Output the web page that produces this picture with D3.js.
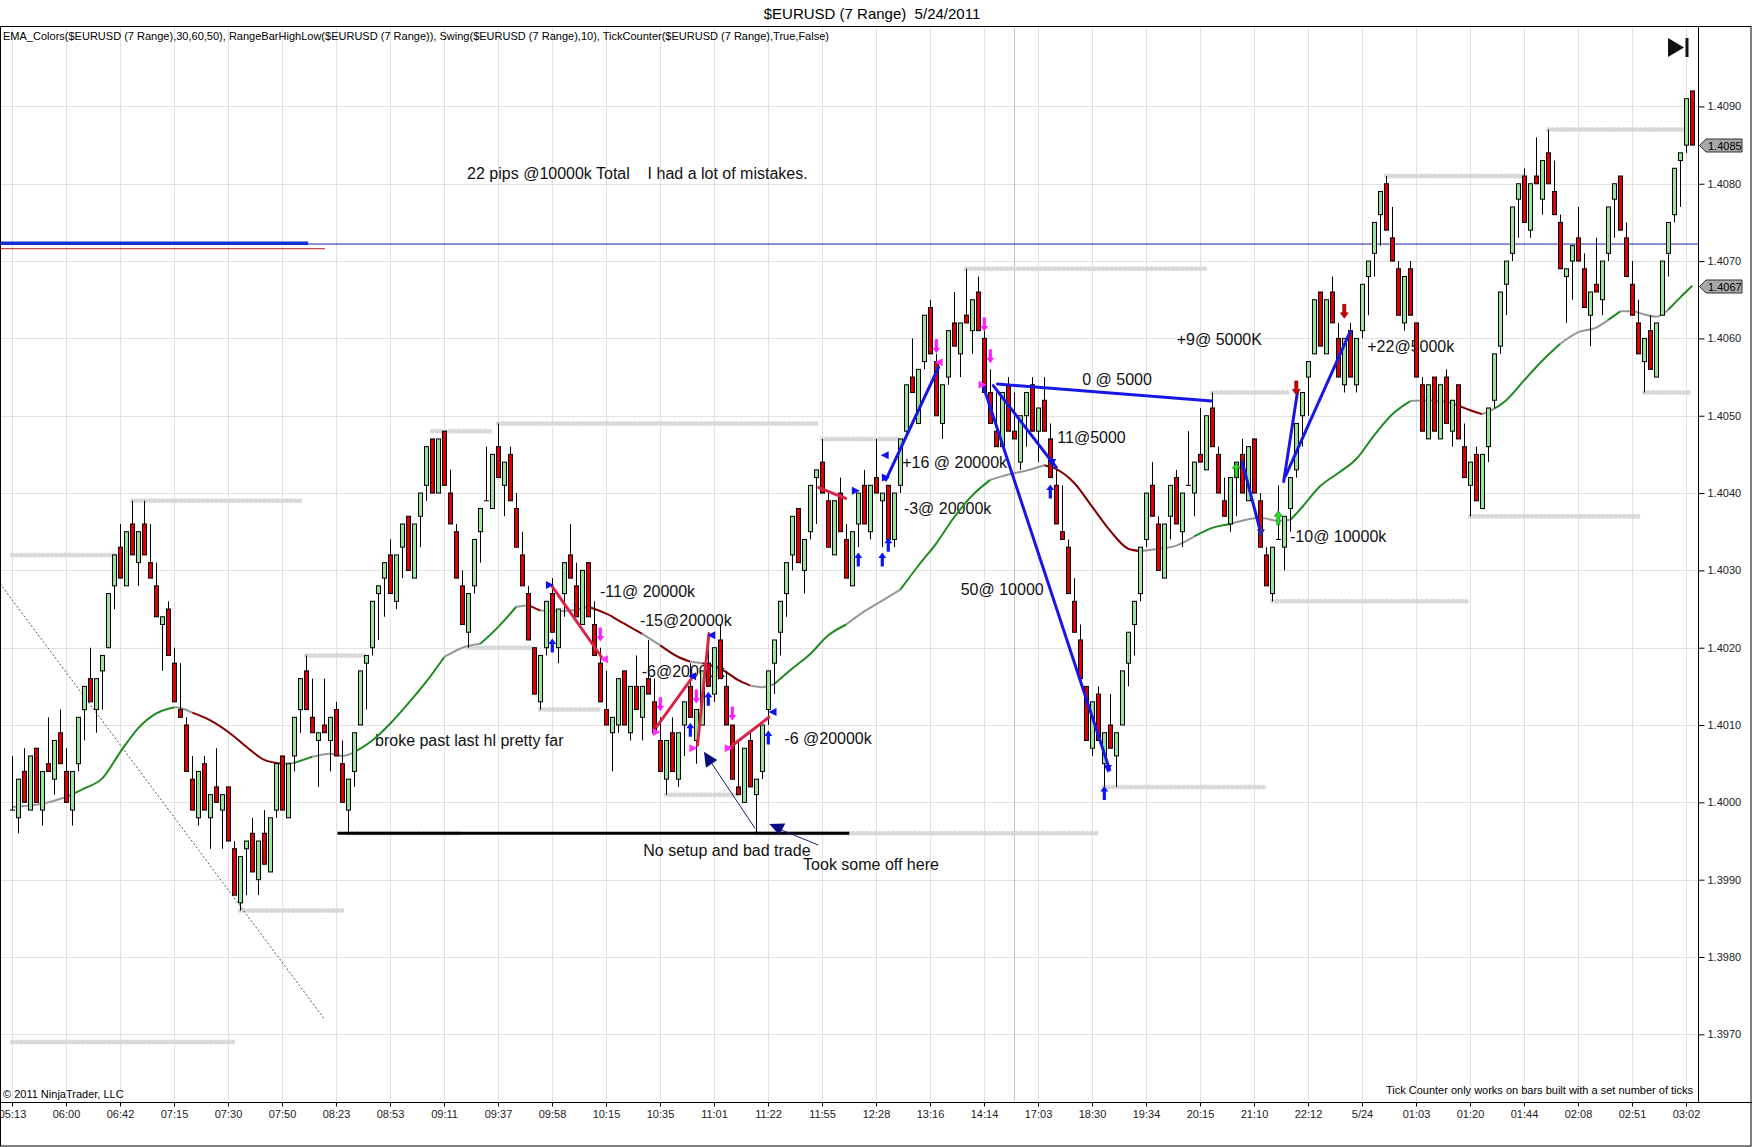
<!DOCTYPE html>
<html>
<head>
<meta charset="utf-8">
<script src="https://cdn.jsdelivr.net/npm/d3@7"></script>
<style>
  body { margin: 0; background: #fff; }
  svg { display: block; }
  text { font-family: "Liberation Sans", Arial, sans-serif; }
</style>
</head>
<body>
<script>
// all price values below are in pips above 1.4000
var timeLabels = ["05:13","06:00","06:42","07:15","07:30","07:50","08:23","08:53","09:11","09:37",
  "09:58","10:15","10:35","11:01","11:22","11:55","12:28","13:16","14:14","17:03","18:30","19:34",
  "20:15","21:10","22:12","5/24","01:03","01:20","01:44","02:08","02:51","03:02"];
var priceTicks = [1.3970,1.3980,1.3990,1.4000,1.4010,1.4020,1.4030,1.4040,1.4050,1.4060,1.4070,1.4080,1.4090];

var opens = [-1,-2,4,-1,7,-1,5,3,9,4, -1,5,12,16,12,17,20,28,33,28, 36,31,36,31,28,23,25,18,12,10,
  3,-2,5,-2,2,-1,2,-6,-13,-6, -4,-10,-4,-9,-1,6,-2,6,12,17, 11,8,10,8,12,5,-1,4,10,18,
  20,27,29,32,26,33,37,29,37,41, 47,40,48,40,35,28,22,28,35,39, 38,46,41,45,38,32,27,20,13,20,
  27,20,27,32,28,23,31,23,18,12, 9,10,17,9,15,11,16,13,8,3, 9,3,10,15,8,10,18,14,21,15,
  10,2,0,8,1,4,12,18,22,27, 32,38,30,35,42,44,39,32,40,34, 28,36,41,35,42,39,41,34,41,48,
  55,49,57,64,57,49,55,62,58,63, 61,66,60,53,48,46,54,48,44,50, 54,48,52,47,41,35,33,26,21,15,
  7,14,5,10,6,10,18,23,27,34, 41,36,29,37,42,35,41,40,45,43, 51,45,39,36,42,45,39,47,39,32,
  27,34,33,38,43,50,55,58,66,58, 66,60,54,61,54,61,68,71,76,80, 73,69,62,69,62,54,47,55,47,55,
  48,54,46,41,45,38,46,52,59,67, 71,78,81,74,81,78,84,79,75,68, 70,73,69,63,67,65,71,78,81,73,
  67,62,57,61,55,63,71,76,83,85, 92];
var highs = [6,3,7,6,7,4,11,8,12,7, 4,11,15,20,16,19,27,32,36,35, 39,35,39,36,31,24,26,20,18,11,
  6,4,6,1,7,1,2,-5,-7,-5, -2,-5,-1,-2,5,6,5,11,16,19, 16,9,16,11,13,8,3,9,17,19,
  26,28,31,34,32,36,37,36,40,46, 47,47,48,43,36,30,27,34,38,46, 45,49,44,46,40,35,28,20,19,26,
  29,25,31,36,31,30,31,26,20,17, 11,16,17,15,19,15,21,16,11,8, 11,9,13,18,12,17,22,20,23,17,
  10,8,7,9,3,10,17,21,26,31, 37,38,34,41,43,47,40,39,42,36, 35,40,43,41,47,40,41,40,47,54,
  60,56,63,65,58,54,61,66,62,69, 65,68,61,56,53,53,55,53,50,53, 55,51,55,49,43,41,34,29,23,15,
  13,15,9,14,9,17,22,26,33,40, 44,37,36,41,43,40,48,44,51,50, 53,46,42,42,44,47,46,47,40,33,
  33,41,37,42,49,53,57,65,66,65, 68,62,60,62,60,67,70,75,79,81, 77,70,68,70,62,55,54,55,54,56,
  52,54,49,44,46,45,51,58,66,70, 77,80,82,80,86,83,87,83,76,69, 72,77,71,66,73,70,77,80,81,75,
  70,65,60,63,62,70,75,82,84,91, 92];
var lows = [-1,-4,0,-1,0,-3,4,1,5,0, -3,4,8,13,9,12,20,25,29,28, 32,28,32,29,24,17,19,13,11,4,
  -1,-3,-1,-6,0,-6,-5,-12,-14,-12, -9,-12,-8,-9,-2,-1,-2,4,9,12, 9,2,9,4,6,0,-4,2,10,12,
  19,21,24,27,25,29,30,29,33,39, 40,40,41,36,29,23,20,27,31,39, 38,42,37,39,33,28,21,14,12,19,
  22,18,24,29,24,23,24,19,13,10, 4,9,10,8,12,8,14,9,4,1, 4,2,6,11,5,10,15,13,16,10,
  3,1,0,2,-4,3,10,14,19,24, 30,31,27,34,36,40,33,32,35,29, 28,33,36,34,40,33,34,33,40,47,
  53,49,56,58,50,47,54,59,55,62, 58,61,53,49,46,46,48,47,43,46, 48,44,48,42,36,34,27,22,16,8,
  6,8,2,7,2,10,15,19,26,33, 37,30,29,34,36,33,41,37,44,43, 46,40,37,35,37,40,39,40,33,28,
  26,34,30,35,42,46,50,58,59,58, 62,55,53,55,53,60,63,68,72,74, 70,63,61,63,55,48,47,48,47,49,
  46,47,42,37,39,38,44,51,58,63, 70,73,75,73,80,76,80,76,69,62, 65,70,64,59,66,63,70,73,74,68,
  63,58,53,56,55,63,68,75,77,84, 85];
var closes = [-1,3,0,6,0,4,4,8,5,0, 4,11,15,13,16,19,27,32,29,35, 32,35,32,29,24,24,19,13,11,4,
  -1,4,-1,1,0,1,-5,-12,-7,-5, -9,-5,-8,-2,5,-1,5,11,16,12, 9,9,9,11,6,0,3,9,17,19,
  26,28,31,27,32,36,30,36,40,46, 40,47,41,36,29,23,27,34,38,39, 45,42,44,39,33,28,21,14,19,26,
  22,25,31,29,24,30,24,19,13,10, 11,16,10,15,12,15,14,9,4,8, 4,9,13,11,12,17,15,20,16,10,
  3,1,7,2,3,10,17,21,26,31, 37,31,34,41,43,40,33,39,35,29, 35,40,36,41,40,40,34,40,47,54,
  53,56,63,58,50,54,61,59,62,62, 65,61,53,49,46,53,48,47,50,53, 48,51,48,42,36,34,27,22,16,8,
  13,8,9,7,9,17,22,26,33,40, 37,30,36,41,36,40,41,44,44,50, 46,40,37,42,44,40,46,40,33,28,
  33,34,37,42,49,53,57,65,59,65, 62,55,60,55,60,67,70,75,79,74, 70,63,68,63,55,48,54,48,54,49,
  52,47,42,44,39,45,51,58,66,70, 77,80,75,80,80,83,80,76,69,69, 72,70,64,66,66,70,77,80,74,68,
  63,58,60,56,62,70,75,82,84,91, 85];

// EMA at sample bars, with the colour runs seen on the chart
var emaBars = [0,6,9,12,15,18,21,24,27,28,30,33,36,39,42,45,47,50,53,55,57,60,63,66,69,72,75,78,81,84,86,88,90,93,96,
  99,102,105,108,111,113,115,118,121,123,125,127,130,133,136,139,142,145,148,151,154,157,160,163,166,169,172,174,
  177,180,183,186,188,191,194,197,200,203,206,208,211,213,215,218,221,224,227,230,233,236,239,241,243,245,247,
  249,252,255,258,261,264,266,268,270,272,274,276,278,280];
var emaPips = [-0.6,0,0.7,1.8,3.1,6.5,9.6,11.5,12.3,12.2,11.6,10.6,9.1,7.2,5.5,5.0,5.1,5.9,6.3,6.0,6.5,8.0,10.2,12.8,15.6,18.8,20.0,20.5,22.7,25.3,25.5,24.8,24.7,24.8,25.3,
  24.4,23.1,21.8,20.3,18.8,18.2,18.0,17.3,15.8,15.1,14.9,15.3,17.3,19.2,21.6,23.0,24.7,26.1,27.5,30.6,33.5,36.9,39.7,41.7,42.4,42.9,43.6,43.1,
  41.3,38.2,35.1,32.8,32.5,32.8,33.2,34.4,35.5,36.0,36.6,36.8,36.4,36.5,38.2,40.9,42.6,44.4,47.5,50.2,51.9,52.0,51.8,51.3,50.7,50.2,50.9,
  52.0,54.6,57.1,59.3,60.8,61.4,62.4,63.5,63.5,63.1,62.8,63.7,65.3,66.8];
var emaRuns = [[0,9,"flat"],[9,27,"up"],[27,30,"flat"],[30,45,"down"],[45,47,"flat"],[47,50,"up"],[50,57,"flat"],
  [57,72,"up"],[72,78,"flat"],[78,84,"up"],[84,86,"flat"],[86,88,"down"],[88,96,"flat"],[96,105,"down"],
  [105,108,"flat"],[108,113,"down"],[113,115,"flat"],[115,123,"down"],[123,127,"flat"],[127,139,"up"],
  [139,148,"flat"],[148,163,"up"],[163,172,"flat"],[172,188,"down"],[188,197,"flat"],[197,203,"up"],
  [203,213,"flat"],[213,233,"up"],[233,241,"flat"],[241,245,"down"],[245,247,"flat"],[247,258,"up"],
  [258,266,"flat"],[266,268,"up"],[268,276,"flat"],[276,280,"up"]];

// swing high / low dot rows: first bar, last bar, level
var swingDots = [[0,17,32],[20,48,39],[49,59,19],[70,80,48],[81,134,49],[76,87,20],[88,98,12],[109,121,1],
  [56,75,-4],[124,181,-4],[159,199,69],[200,213,53],[210,243,26],[182,209,2],[229,252,81],[256,279,87],
  [243,271,37],[272,280,53],[0,37,-31],[38,55,-14],[135,148,47]];

// trade lines drawn on the chart: [bar, pips] pairs
var redTrades = [[[90,27.9],[98.2,18.8]],[[107.4,9.8],[113.2,16]],[[114.2,7.4],[116.1,21.8]],
  [[119.4,7.0],[126.1,11.0]],[[134.4,40.7],[138.9,39.3]]];
var blueTrades = [[[145.6,41.7],[154.4,56.3]],[[161.8,53.9],[182.9,4.2]],[[163.5,53.9],[174,43.3]],
  [[164.2,54.1],[199.9,51.9]],[[205.0,44.0],[208.1,34.8]],[[211.9,41.5],[214.2,53.1]],[[212.2,42.2],[223.0,60.9]]];

var blueUpArrows = [[90,20.3],[113,9.4],[116,13.4],[126,8.4],[141,31.4],[145,31.4],[146,33.3],[173,40.2],[182,1.2]];
var magentaDownArrows = [[98,21.7],[108,12.7],[114,13.7],[120,11.5],[154,59.0],[162,61.8],[163,57.7]];
var redDownArrows = [[214,53.6],[222,63.5]];
var greenUpArrows = [[204,43.0],[211,36.8]];
// small swing triangles: bar, pips, colour, direction
var markers = [[89.6,28.1,"b","r"],[98.6,18.5,"m","l"],[107.4,9.1,"m","r"],[113.3,16.3,"b","l"],
  [116.5,21.6,"b","l"],[113.5,7.0,"m","r"],[119.4,7.0,"m","r"],[126.7,11.7,"b","l"],[140.6,40.3,"b","r"],
  [145.4,44.9,"b","l"],[145.6,42.0,"b","r"],[154.4,56.9,"m","l"],[161.7,54.0,"m","r"],[173.3,43.9,"b","d"],
  [182.6,4.3,"b","d"],[208.1,34.8,"n","d"]];

var notes = [
  ["22 pips @10000k Total    I had a lot of mistakes.", 75.8, 80.6],
  ["-11@ 20000k", 97.95, 26.55], ["-15@20000k", 104.6, 22.8], ["-6@20000k", 104.9, 16.2],
  ["-6 @20000k", 128.67, 7.54], ["broke past last hl pretty far", 60.45, 7.28],
  ["No setup and bad trade", 105.17, -6.94], ["Took some off here", 131.8, -8.75],
  ["+16 @ 20000k", 148.33, 43.22], ["-3@ 20000k", 148.6, 37.28], ["50@ 10000", 158.07, 26.86],
  ["0 @ 5000", 178.33, 53.92], ["11@5000", 174.17, 46.46], ["+9@ 5000K", 194.07, 59.17],
  ["-10@ 10000k", 212.95, 33.66], ["+22@5000k", 225.83, 58.28]];

// hand drawn navy arrows near the lows
var navyHeads = [[[115.28,6.54],[117.5,5.47],[115.6,4.47]], [[126.17,-2.81],[128.83,-2.72],[127.83,-4.23]]];
var navyShafts = [[[116.57,5.04],[123.78,-3.36]], [[127.95,-3.49],[134.33,-5.52]]];

var hLineLevel = 72.2;              // blue horizontal line
var thickBlue = [[-2.05,72.3],[49.3,72.3]];
var thinRed = [[-2.05,71.6],[52.1,71.6]];
var blackLine = [[54.2,-4],[139.5,-4]];
var dashedLine = [[-2.05,28.3],[52,-28]];
var sessionBreakBar = 167;

var width = 1752, height = 1147;
var plotRight = 1698, plotTop = 26, plotBottom = 1102;

var px = function(p) { return 1.4 + p / 10000; };

var x = d3.scaleLinear().domain([0, 280]).range([12.3, 1692.3]);
var y = d3.scaleLinear().domain([px(-38.75), px(100.4)]).range([plotBottom, plotTop]);

var svg = d3.select("body").append("svg").attr("width", width).attr("height", height);

svg.append("defs").append("clipPath").attr("id", "plot")
  .append("rect").attr("x", 0).attr("y", plotTop).attr("width", plotRight).attr("height", plotBottom - plotTop);

// title
svg.append("text").attr("x", 872).attr("y", 19).attr("text-anchor", "middle")
  .style("font-size", "15px").style("white-space", "pre").text("$EURUSD (7 Range)  5/24/2011");

var plot = svg.append("g").attr("clip-path", "url(#plot)");

// grid
var grid = plot.append("g").attr("stroke", "#e2e2e2").attr("stroke-width", 1);
timeLabels.forEach(function(t, i) {
  var gx = Math.round(x(i * 9)) + 0.5;   // a label every 9th bar
  grid.append("line").attr("x1", gx).attr("x2", gx).attr("y1", plotTop).attr("y2", plotBottom);
});
priceTicks.forEach(function(p) {
  var gy = Math.round(y(p)) + 0.5;
  grid.append("line").attr("x1", 0).attr("x2", plotRight).attr("y1", gy).attr("y2", gy);
});
var sbx = Math.round(x(sessionBreakBar)) + 0.5;
plot.append("line").attr("x1", sbx).attr("x2", sbx).attr("y1", plotTop).attr("y2", plotBottom)
  .attr("stroke", "#c4c4c4");

// notes sit under the marks
plot.append("g").selectAll("text").data(notes).enter().append("text")
  .attr("x", function(d) { return x(d[1]); })
  .attr("y", function(d) { return y(px(d[2])); })
  .style("font-size", "16px").style("white-space", "pre").attr("fill", "#111")
  .text(function(d) { return d[0]; });

// swing dots, drawn as a chain of round dots
plot.append("g").selectAll("line").data(swingDots).enter().append("line")
  .attr("x1", function(d) { return x(d[0]); })
  .attr("x2", function(d) { return x(d[1]); })
  .attr("y1", function(d) { return y(px(d[2])); })
  .attr("y2", function(d) { return y(px(d[2])); })
  .attr("stroke", "#d9d9d9").attr("stroke-width", 5)
  .attr("stroke-linecap", "round").attr("stroke-dasharray", "0.01,4.4");

// horizontal drawn lines
var seg = function(pts, color, w, dash) {
  var l = plot.append("line")
    .attr("x1", x(pts[0][0])).attr("y1", y(px(pts[0][1])))
    .attr("x2", x(pts[1][0])).attr("y2", y(px(pts[1][1])))
    .attr("stroke", color).attr("stroke-width", w);
  if (dash) l.attr("stroke-dasharray", dash);
  return l;
};
plot.append("line").attr("x1", 0).attr("x2", plotRight)
  .attr("y1", y(px(hLineLevel))).attr("y2", y(px(hLineLevel)))
  .attr("stroke", "#2020b0").attr("stroke-width", 1);
seg(thinRed, "#c01818", 1);
seg(thickBlue, "#1530d8", 3.5);
seg(dashedLine, "#555", 1, "2,2");
seg(blackLine, "#000", 3);

// EMA
var emaColors = { up: "#1f8a1f", down: "#800000", flat: "#969696" };
var emaLine = d3.line().curve(d3.curveMonotoneX)
  .x(function(d) { return x(d[0]); }).y(function(d) { return y(px(d[1])); });
emaRuns.forEach(function(r) {
  var pts = [];
  emaBars.forEach(function(b, i) { if (b >= r[0] && b <= r[1]) pts.push([b, emaPips[i]]); });
  plot.append("path").attr("d", emaLine(pts)).attr("fill", "none")
    .attr("stroke", emaColors[r[2]]).attr("stroke-width", 2);
});

// candles
var bars = opens.map(function(o, i) {
  return { i: i, o: px(o), h: px(highs[i]), l: px(lows[i]), c: px(closes[i]) };
});
var candle = plot.append("g").selectAll("g").data(bars).enter().append("g");
candle.append("line")
  .attr("x1", function(d) { return Math.round(x(d.i)) + 0.5; })
  .attr("x2", function(d) { return Math.round(x(d.i)) + 0.5; })
  .attr("y1", function(d) { return y(d.h); })
  .attr("y2", function(d) { return y(d.l); })
  .attr("stroke", "#000").attr("stroke-width", 1);
candle.append("rect")
  .attr("x", function(d) { return Math.round(x(d.i)) - 1.5; })
  .attr("width", 4)
  .attr("y", function(d) { return y(Math.max(d.o, d.c)); })
  .attr("height", function(d) { return Math.max(0.01, Math.abs(y(d.o) - y(d.c))); })
  .attr("fill", function(d) { return d.c >= d.o ? "#98e498" : "#e00000"; })
  .attr("stroke", "#000").attr("stroke-width", 1);

// trade lines
redTrades.forEach(function(t) { seg(t, "#d8264a", 3).attr("stroke-linecap", "round"); });
blueTrades.forEach(function(t) { seg(t, "#1818e6", 3).attr("stroke-linecap", "round"); });

// arrows
function arrow(list, color, up, stroke) {
  plot.append("g").selectAll("path").data(list).enter().append("path")
    .attr("d", function(d) {
      var cx = x(d[0]), cy = y(px(d[1])), s = up ? 1 : -1;
      return "M" + cx + "," + (cy - 7 * s) + "L" + (cx + 4) + "," + (cy - 1.5 * s) + "L" + (cx + 1.6) + "," + (cy - 1.5 * s) +
        "L" + (cx + 1.6) + "," + (cy + 7 * s) + "L" + (cx - 1.6) + "," + (cy + 7 * s) + "L" + (cx - 1.6) + "," + (cy - 1.5 * s) +
        "L" + (cx - 4) + "," + (cy - 1.5 * s) + "Z";
    })
    .attr("fill", color).attr("stroke", stroke || "none").attr("stroke-width", 0.6);
}
arrow(blueUpArrows, "#0a14ff", true);
arrow(magentaDownArrows, "#ff1eff", false);
arrow(redDownArrows, "#d00000", false, "#600");
arrow(greenUpArrows, "#22e022", true, "#0a6a0a");

var markerColors = { b: "#1010ee", m: "#ff30ff", n: "#3a2a90" };
plot.append("g").selectAll("path").data(markers).enter().append("path")
  .attr("d", function(d) {
    var cx = x(d[0]), cy = y(px(d[1])), s = 4;
    if (d[3] === "r") return "M" + (cx - s) + "," + (cy - s) + "L" + (cx + s) + "," + cy + "L" + (cx - s) + "," + (cy + s) + "Z";
    if (d[3] === "l") return "M" + (cx + s) + "," + (cy - s) + "L" + (cx - s) + "," + cy + "L" + (cx + s) + "," + (cy + s) + "Z";
    return "M" + (cx - s) + "," + (cy - s) + "L" + (cx + s) + "," + (cy - s) + "L" + cx + "," + (cy + s) + "Z";
  })
  .attr("fill", function(d) { return markerColors[d[2]]; });

navyShafts.forEach(function(t) { seg(t, "#1c1c70", 1); });
plot.append("g").selectAll("path").data(navyHeads).enter().append("path")
  .attr("d", function(d) {
    return "M" + d.map(function(p) { return x(p[0]) + "," + y(px(p[1])); }).join("L") + "Z";
  })
  .attr("fill", "#0a0a80");

// indicator caption and small texts
svg.append("text").attr("x", 3).attr("y", 40).style("font-size", "11px")
  .attr("textLength", 826).attr("lengthAdjust", "spacingAndGlyphs")
  .text("EMA_Colors($EURUSD (7 Range),30,60,50), RangeBarHighLow($EURUSD (7 Range)), Swing($EURUSD (7 Range),10), TickCounter($EURUSD (7 Range),True,False)");
svg.append("text").attr("x", 3).attr("y", 1098).style("font-size", "11px").text("\u00a9 2011 NinjaTrader, LLC");
svg.append("text").attr("x", 1693).attr("y", 1094).attr("text-anchor", "end").style("font-size", "11px")
  .text("Tick Counter only works on bars built with a set number of ticks");

// go-to-end icon
svg.append("path").attr("d", "M1668,38L1684,47.5L1668,57Z").attr("fill", "#111");
svg.append("rect").attr("x", 1685.5).attr("y", 38).attr("width", 3).attr("height", 19).attr("fill", "#111");

// frame and axes
svg.append("rect").attr("x", 0.5).attr("y", plotTop + 0.5).attr("width", width - 1.5).attr("height", height - plotTop - 1.5)
  .attr("fill", "none").attr("stroke", "#000");
svg.append("line").attr("x1", 0).attr("x2", width).attr("y1", plotBottom + 0.5).attr("y2", plotBottom + 0.5).attr("stroke", "#000");
svg.append("line").attr("x1", plotRight + 0.5).attr("x2", plotRight + 0.5).attr("y1", plotTop).attr("y2", plotBottom).attr("stroke", "#000");

var yAxis = d3.axisRight(y).tickValues(priceTicks).tickSize(6).tickPadding(3)
  .tickFormat(function(d) { return d.toFixed(4); });
var ya = svg.append("g").attr("transform", "translate(" + (plotRight + 0.5) + ",0)").call(yAxis);
ya.select(".domain").remove();
ya.selectAll("text").style("font-size", "11px").style("font-family", "'Liberation Sans', Arial, sans-serif").attr("fill", "#222");

var xa = svg.append("g").attr("transform", "translate(0," + (plotBottom + 0.5) + ")");
timeLabels.forEach(function(t, i) {
  var tx = Math.round(x(i * 9)) + 0.5;
  xa.append("line").attr("x1", tx).attr("x2", tx).attr("y1", 0).attr("y2", 4).attr("stroke", "#000");
  xa.append("text").attr("x", tx).attr("y", 15).attr("text-anchor", "middle").style("font-size", "11px")
    .attr("fill", "#222").text(t);
});

// last price and last EMA flags
function flag(p, fill) {
  var fy = Math.round(y(p)) + 0.5;
  var g = svg.append("g");
  g.append("path").attr("d", "M" + (plotRight + 1.5) + "," + fy + "L" + (plotRight + 8) + "," + (fy - 6.5) +
    "L1742," + (fy - 6.5) + "L1742," + (fy + 6.5) + "L" + (plotRight + 8) + "," + (fy + 6.5) + "Z")
    .attr("fill", fill).attr("stroke", "#333");
  g.append("text").attr("x", plotRight + 10).attr("y", fy + 4).style("font-size", "11px").text(p.toFixed(4));
}
flag(px(closes[closes.length - 1]), "#a8a8a8");
flag(px(emaPips[emaPips.length - 1]), "#a8a8a8");
</script>
</body>
</html>
